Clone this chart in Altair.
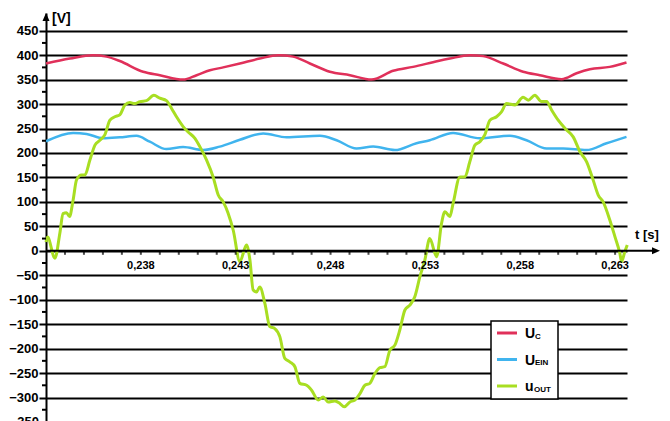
import altair as alt
import pandas as pd

# ---- measured signals (time in s, voltage in V) ----
uc_t = [0.2330, 0.23426, 0.23547, 0.23619, 0.23689, 0.23812, 0.2390, 0.24023, 0.24094,
        0.24164, 0.24234, 0.24322, 0.24427, 0.24524, 0.24603, 0.24691, 0.24796, 0.24902,
        0.25016, 0.2513, 0.25235, 0.25367, 0.25429, 0.25534, 0.25604, 0.2571, 0.25815,
        0.25903, 0.26018, 0.26097, 0.26167, 0.26272, 0.2636]
uc_v = [383, 393, 400, 397, 388, 366, 359, 350, 359,
        369, 375, 383, 393, 400, 397, 383, 366, 359,
        350, 368, 376, 388, 393, 400, 398, 383, 366,
        359, 351, 363, 371, 376, 385]

uein_t = [0.2330, 0.23443, 0.23514, 0.23601, 0.23689, 0.23777, 0.23847, 0.23935, 0.24023,
          0.24128, 0.24216, 0.24322, 0.24445, 0.24568, 0.24744, 0.24832, 0.24937, 0.25025,
          0.25139, 0.25253, 0.25323, 0.25446, 0.25587, 0.25745, 0.25833, 0.25939, 0.26026,
          0.26149, 0.26255, 0.2636]
uein_v = [224, 241, 239, 230, 232, 235, 223, 208, 212,
          206, 213, 227, 240, 232, 235, 226, 209, 213,
          206, 220, 226, 241, 230, 235, 226, 209, 209,
          206, 220, 233]

uout_t = [0.2330, 0.23308, 0.23347, 0.23373, 0.2339, 0.23408, 0.23424, 0.23443, 0.23461,
          0.23487, 0.23505, 0.23531, 0.23558, 0.23584, 0.2361, 0.23637, 0.23663, 0.23689,
          0.23716, 0.23742, 0.23768, 0.23795, 0.2383, 0.23869, 0.2390, 0.23935, 0.23962,
          0.23988, 0.24023, 0.24049, 0.24085, 0.24111, 0.24146, 0.24181, 0.24208, 0.24234,
          0.2426, 0.24287, 0.24322, 0.24357, 0.24375, 0.24392, 0.2441, 0.24427, 0.24454,
          0.2448, 0.24506, 0.24533, 0.24559, 0.24585, 0.24612, 0.24638, 0.24674, 0.2470,
          0.24735, 0.24761, 0.24787, 0.24823, 0.24849, 0.24872, 0.24902, 0.24928, 0.24955,
          0.24981, 0.25007, 0.25034, 0.2506, 0.25086, 0.25113, 0.25139, 0.25165, 0.25192,
          0.25218, 0.25244, 0.25271, 0.25297, 0.25323, 0.25359, 0.25385, 0.25403, 0.25429,
          0.25446, 0.25482, 0.25508, 0.25534, 0.25561, 0.25587, 0.25613, 0.2564, 0.25675,
          0.25701, 0.25728, 0.25772, 0.25815, 0.25842, 0.25877, 0.25912, 0.25939, 0.25965,
          0.2600, 0.26044, 0.26079, 0.26114, 0.2615, 0.26184, 0.26211, 0.26237, 0.26272,
          0.26299, 0.26325, 0.26334, 0.26351, 0.26364]
uout_v = [18, 28, -15, 36, 76, 78, 70, 104, 145,
          155, 155, 185, 216, 226, 237, 267, 274, 278,
          298, 303, 301, 305, 307, 318, 312, 307, 291,
          274, 254, 243, 230, 213, 186, 151, 114, 100,
          77, 42, -22, 12, -19, -80, -84, -74, -108,
          -155, -159, -176, -220, -227, -237, -271, -275, -285,
          -305, -299, -309, -307, -312, -319, -309, -305, -292,
          -275, -271, -251, -239, -237, -203, -193, -162, -121,
          -111, -94, -53, -19, 25, -12, 56, 80, 70,
          97, 151, 151, 182, 216, 223, 237, 267, 274,
          284, 301, 298, 314, 308, 318, 305, 305, 288,
          267, 247, 233, 203, 182, 145, 114, 100, 63,
          29, -5, -22, -2, 12]

series_names = ["U_C", "U_EIN", "u_OUT"]
series_colors = ["#E0305A", "#40B4EE", "#A8DE22"]
series_widths = [2.5, 2.5, 3]

# x-axis ticks and labels
tick_t = [round(0.234 + i * 0.001, 3) for i in range(30)]
label_t = [0.238, 0.243, 0.248, 0.253, 0.258, 0.263]
label_txt = ["0,238", "0,243", "0,248", "0,253", "0,258", "0,263"]

# y-axis labelled and minor values
y_major = list(range(-300, 451, 50))
y_minor = list(range(-325, 451, 50))

FONT = "Liberation Sans"
W, H = 581, 408
xs = alt.Scale(domain=[0.233, 0.263627], nice=False, zero=False)
ys = alt.Scale(domain=[-348, 486.2], nice=False, zero=False)
yaxis = alt.Axis(
    values=y_major, title=None, grid=True, gridColor="black", gridWidth=2,
    gridOpacity=1, tickSize=7, tickWidth=2, tickColor="black", ticks=True,
    domain=True, domainColor="black", domainWidth=2, labelFont=FONT, labelFontSize=13,
    labelFontWeight="bold", labelColor="black", labelPadding=1, labelOverlap=False)


def Y(field):
    return alt.Y(field, scale=ys, axis=yaxis)


def X(field):
    return alt.X(field, scale=xs, axis=None)


def line_layer(t, v, color, width):
    df = pd.DataFrame({"t": t, "v": v})
    return alt.Chart(df).mark_line(color=color, strokeWidth=width, interpolate="monotone").encode(
        x=X("t:Q"), y=Y("v:Q"))


lines = [
    line_layer(uc_t, uc_v, series_colors[0], series_widths[0]),
    line_layer(uein_t, uein_v, series_colors[1], series_widths[1]),
    line_layer(uout_t, uout_v, series_colors[2], series_widths[2]),
]

# minor ticks on the y axis
minor = alt.Chart(pd.DataFrame({"v": y_minor})).mark_rule(color="black", strokeWidth=2).encode(
    x=alt.value(-4), x2=alt.value(0), y=Y("v:Q"))

# lowest label, partly below the visible area
low_label = alt.Chart(pd.DataFrame({"v": [-350], "s": ["-350"]})).mark_text(
    align="right", baseline="middle", font=FONT, fontSize=13, fontWeight="bold", color="black"
).encode(x=alt.value(-7), y=Y("v:Q"), text="s:N")

# x axis drawn at zero volts
x_axis_line = alt.Chart(pd.DataFrame({"v": [0]})).mark_rule(color="black", strokeWidth=2).encode(
    x=alt.value(0), x2=alt.value(608), y=Y("v:Q"))

x_ticks = alt.Chart(pd.DataFrame({"t": tick_t, "v": [0] * len(tick_t)})).mark_tick(
    color="black", orient="vertical", size=4, thickness=2, yOffset=2
).encode(x=X("t:Q"), y=Y("v:Q"))

x_labels = alt.Chart(pd.DataFrame({"t": label_t, "s": label_txt, "v": [0] * len(label_t)})).mark_text(
    align="center", baseline="middle", dy=15, font=FONT, fontSize=11, fontWeight="bold", color="black"
).encode(x=X("t:Q"), y=Y("v:Q"), text="s:N")

x_arrow = alt.Chart(pd.DataFrame({"v": [0]})).mark_point(
    shape="M1,0L-1,-0.875L-1,0.875Z", size=64, filled=True, color="black", opacity=1
).encode(x=alt.value(610), y=Y("v:Q"))

y_arrow = alt.Chart(pd.DataFrame({"v": [0]})).mark_point(
    shape="M0,-1L0.875,1L-0.875,1Z", size=64, filled=True, color="black", opacity=1
).encode(x=alt.value(0), y=alt.value(4))

x_title = alt.Chart(pd.DataFrame({"s": ["t [s]"]})).mark_text(
    align="left", baseline="middle", font=FONT, fontSize=13, fontWeight="bold", color="black"
).encode(x=alt.value(589), y=alt.value(222), text="s:N")

y_title = alt.Chart(pd.DataFrame({"s": ["[V]"]})).mark_text(
    align="left", baseline="middle", font=FONT, fontSize=14, fontWeight="bold", color="black"
).encode(x=alt.value(6), y=alt.value(6), text="s:N")

# legend box
legend_box = alt.Chart(pd.DataFrame({"k": [0]})).mark_rect(
    fill="white", stroke="black", strokeWidth=1.5
).encode(x=alt.value(445), x2=alt.value(512), y=alt.value(308), y2=alt.value(386))

legend_main = ["U", "U", "u"]
legend_sub = ["C", "EIN", "OUT"]
legend_layers = []
for i in range(3):
    cy = 320 + i * 26.5
    df = pd.DataFrame({"m": [legend_main[i]], "s": [legend_sub[i]]})
    base = alt.Chart(df)
    legend_layers.append(base.mark_rule(color=series_colors[i], strokeWidth=3).encode(
        x=alt.value(451), x2=alt.value(471), y=alt.value(cy)))
    legend_layers.append(base.mark_text(
        align="left", baseline="alphabetic", font=FONT, fontSize=14, fontWeight="bold", color="black"
    ).encode(x=alt.value(479), y=alt.value(cy + 5), text="m:N"))
    sub_x = 489 if legend_main[i] == "U" else 488
    legend_layers.append(base.mark_text(
        align="left", baseline="alphabetic", font=FONT, fontSize=8, fontWeight="bold", color="black"
    ).encode(x=alt.value(sub_x), y=alt.value(cy + 5.5), text="s:N"))

chart = alt.layer(
    *lines, minor, low_label, x_axis_line, x_ticks, x_labels, x_arrow, y_arrow,
    x_title, y_title, legend_box, *legend_layers
).properties(
    width=W, height=H,
    padding={"left": 46, "top": 13, "right": 43, "bottom": 0},
    autosize="none",
).configure_view(stroke=None)

chart.save("out.html", embed_options={"renderer": "svg", "actions": False})
